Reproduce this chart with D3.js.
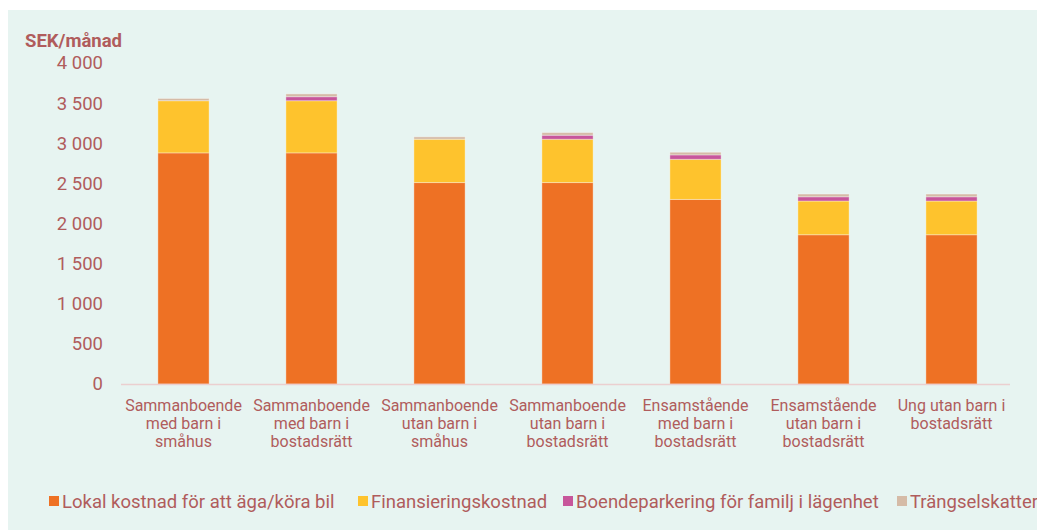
<!DOCTYPE html>
<html>
<head>
<meta charset="utf-8">
<script src="https://cdn.jsdelivr.net/npm/d3@7"></script>
<style>
  body { margin: 0; background: #fff; }
  svg { display: block; font-family: Roboto, "Noto Sans", sans-serif; }
</style>
</head>
<body>
<div id="chart"></div>
<script>
// data (SEK per month)
const categories = [
    ["Sammanboende", "med barn i", "småhus"],
    ["Sammanboende", "med barn i", "bostadsrätt"],
    ["Sammanboende", "utan barn i", "småhus"],
    ["Sammanboende", "utan barn i", "bostadsrätt"],
    ["Ensamstående", "med barn i", "bostadsrätt"],
    ["Ensamstående", "utan barn i", "bostadsrätt"],
    ["Ung utan barn i", "bostadsrätt"]
];
const seriesNames = ["Lokal kostnad för att äga/köra bil", "Finansieringskostnad", "Boendeparkering för familj i lägenhet", "Trängselskatter"];
const lokal = [2880, 2880, 2510, 2510, 2300, 1860, 1860];
const finans = [650, 650, 540, 540, 500, 420, 420];
const parkering = [0, 50, 0, 50, 55, 53, 53];
const trangsel = [28, 35, 30, 33, 33, 34, 34];
const yTicks = [0, 500, 1000, 1500, 2000, 2500, 3000, 3500, 4000];
const colors = ["#EE7124", "#FEC32D", "#C7569B", "#D5BBA7"];

const width = 1037, height = 530;
const textColor = "#B05C5C";

const svg = d3.select("#chart").append("svg")
    .attr("width", width)
    .attr("height", height);

// panel background
svg.append("rect")
    .attr("x", 8).attr("y", 10)
    .attr("width", width - 8).attr("height", height - 10)
    .attr("fill", "#E7F4F1");

const rows = categories.map((c, i) => ({
    idx: i,
    s0: lokal[i], s1: finans[i], s2: parkering[i], s3: trangsel[i]
}));
const stack = d3.stack().keys(["s0", "s1", "s2", "s3"]);
const layers = stack(rows);

const x = d3.scaleBand()
    .domain(d3.range(categories.length))
    .range([119.5, 1015.5])
    .paddingInner(0.6)
    .paddingOuter(0.3);

const y = d3.scaleLinear()
    .domain([0, 4000])
    .range([384, 63]);

// y tick labels (no axis line)
const yAxis = svg.append("g")
    .attr("transform", "translate(103,0)")
    .call(d3.axisLeft(y).tickValues(yTicks).tickSize(0).tickPadding(0)
        .tickFormat(d => d3.format(",")(d).replace(/,/g, " ")));
yAxis.select(".domain").remove();
yAxis.selectAll("text")
    .attr("fill", textColor)
    .style("font-size", "18.5px")
    .style("font-family", "Roboto, sans-serif");

svg.append("text")
    .attr("x", 25).attr("y", 47)
    .attr("fill", textColor)
    .style("font-size", "18.5px")
    .style("font-weight", "bold")
    .text("SEK/månad");

// bars
svg.selectAll("g.layer")
    .data(layers)
    .enter().append("g")
    .attr("class", "layer")
    .attr("fill", (d, i) => colors[i])
    .selectAll("rect")
    .data(d => d.filter(v => v[1] - v[0] > 0))
    .enter().append("rect")
    .attr("x", d => x(d.data.idx))
    .attr("y", d => y(d[1]))
    .attr("width", x.bandwidth())
    .attr("height", d => y(d[0]) - y(d[1]))
    .attr("stroke", "rgba(255,255,255,0.35)")
    .attr("stroke-width", 1);

// x axis line
svg.append("line")
    .attr("x1", 121).attr("x2", 1010)
    .attr("y1", 384.5).attr("y2", 384.5)
    .attr("stroke", "#EBCFD0")
    .attr("stroke-width", 1.5);

// category labels
const labels = svg.selectAll("text.cat")
    .data(categories)
    .enter().append("text")
    .attr("class", "cat")
    .attr("text-anchor", "middle")
    .attr("fill", textColor)
    .style("font-size", "16px");
labels.selectAll("tspan")
    .data((d, i) => d.map(line => ({ line, i })))
    .enter().append("tspan")
    .attr("x", d => x(d.i) + x.bandwidth() / 2)
    .attr("y", (d, j) => 411 + j * 18)
    .text(d => d.line);

// legend
const legendX = [49, 358, 563, 897];
const legend = svg.selectAll("g.legend")
    .data(seriesNames)
    .enter().append("g")
    .attr("class", "legend")
    .attr("transform", (d, i) => `translate(${legendX[i]},501)`);
legend.append("rect")
    .attr("x", 0).attr("y", -5)
    .attr("width", 10).attr("height", 10)
    .attr("fill", (d, i) => colors[i]);
legend.append("text")
    .attr("x", 13).attr("y", 6.5)
    .attr("fill", textColor)
    .style("font-size", "18.5px")
    .text(d => d);
</script>
</body>
</html>
